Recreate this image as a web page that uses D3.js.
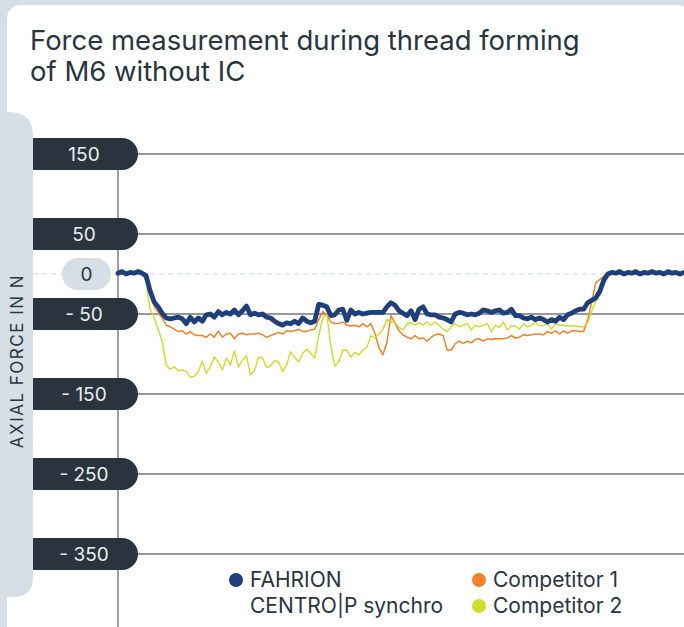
<!DOCTYPE html>
<html>
<head>
<meta charset="utf-8">
<script src="https://cdn.jsdelivr.net/npm/d3@7"></script>
<style>
  html, body { margin: 0; padding: 0; background: #d6dfe5; }
  svg { display: block; }
</style>
</head>
<body>
<svg id="chart" width="684" height="627"></svg>
<script>
// ---------- DATA ----------
const titleLines = ["Force measurement during thread forming", "of M6 without IC"];
const yAxisTitle = "AXIAL FORCE IN N";
const tickValues = [150, 50, 0, -50, -150, -250, -350];
const tickLabels = ["150", "50", "0", "- 50", "- 150", "- 250", "- 350"];
const seriesNames = ["FAHRION\nCENTRO|P synchro", "Competitor 1", "Competitor 2"];
const seriesColors = ["#1e3f7c", "#f5822a", "#cfdc2c"];

// axial force (N) per sample, equally spaced in time
const fahrion = [
  1, 3, 0, 2, 1, 3, 1, -2,
  -21, -35, -41, -49, -55, -56, -55, -54,
  -56, -62, -54, -60, -55, -59, -51, -50,
  -54, -47, -51, -48, -50, -45, -51, -46,
  -40, -51, -49, -51, -50, -54, -55, -59,
  -62, -64, -61, -62, -59, -62, -55, -59,
  -61, -59, -38, -39, -41, -52, -51, -45,
  -44, -58, -45, -50, -48, -50, -49, -48,
  -48, -48, -48, -41, -36, -39, -46, -49,
  -52, -46, -57, -44, -41, -50, -51, -51,
  -54, -55, -57, -60, -50, -48, -49, -51,
  -50, -51, -49, -45, -46, -48, -46, -45,
  -49, -48, -44, -52, -52, -55, -56, -54,
  -57, -55, -57, -60, -57, -59, -54, -57,
  -51, -49, -46, -44, -44, -36, -33, -30,
  -22, -8, 0, 2,
  1, 3, 0, 2, 1, 3, 0, 2, 1, 3, 1, 2, 0, 3, 1, 2, 0, 2
];
const competitor1 = [
  1, 0, 1, 0, 1, 0, 1, -1,
  -23, -40, -48, -55, -64, -66, -69, -72,
  -71, -75, -72, -76, -77, -77, -79, -75,
  -79, -71, -79, -75, -74, -81, -75, -74,
  -76, -75, -75, -74, -76, -79, -77, -75,
  -73, -75, -71, -72, -71, -69, -72, -72,
  -70, -69, -57, -47, -51, -60, -62, -62,
  -60, -64, -65, -64, -66, -62, -66, -62,
  -74, -92, -101, -85, -52, -61, -71, -76,
  -79, -81, -77, -81, -80, -84, -79, -76,
  -75, -77, -95, -95, -87, -84, -87, -84,
  -86, -82, -81, -84, -81, -82, -81, -81,
  -81, -80, -77, -80, -79, -76, -77, -76,
  -75, -75, -76, -72, -74, -71, -75, -71,
  -74, -71, -71, -72, -72, -57, -35, -11,
  -7, -3, 0, 1,
  0, 1, 0, 1, 0, 1, 0, 1, 0, 1, 0, 1, 0, 1, 0, 1, 0, 1
];
const competitor2 = [
  0, 0, 0, 0, 0, 0, 0, -10,
  -44, -54, -69, -84, -114, -119, -116, -121,
  -120, -122, -129, -128, -122, -109, -124, -116,
  -104, -110, -120, -105, -114, -96, -116, -108,
  -102, -126, -121, -104, -105, -117, -115, -108,
  -110, -122, -114, -97, -104, -110, -99, -94,
  -99, -105, -77, -55, -50, -89, -115, -110,
  -95, -95, -104, -98, -101, -95, -92, -77,
  -80, -75, -69, -57, -60, -60, -67, -70,
  -62, -61, -64, -61, -64, -60, -64, -60,
  -64, -69, -72, -66, -62, -66, -64, -62,
  -70, -64, -66, -64, -62, -72, -64, -67,
  -60, -70, -65, -65, -69, -62, -66, -64,
  -60, -65, -64, -62, -69, -62, -64, -64,
  -65, -65, -65, -66, -66, -61, -47, -34,
  -22, -6, 0, 0,
  0, 0, 0, 0, 0, 0, 0, 0, 0, 0, 0, 0, 0, 0, 0, 0, 0, 0
];

// ---------- DRAW ----------
const W = 684, H = 627;
const svg = d3.select("#chart");
const dark = "#29343f";
const bgGray = "#d6dfe5";
const font = "Inter, 'Noto Sans', sans-serif";

// card
svg.append("rect").attr("x", 7).attr("y", 5).attr("width", 684).attr("height", 700)
  .attr("rx", 14).attr("fill", "#ffffff");

// left strip for axis title
const stripTop = 112, stripBottom = 597, stripW = 33, r1 = 24, r2 = 20;
svg.append("path").attr("fill", bgGray).attr("d",
  `M0,${stripTop} L${stripW - r1},${stripTop} Q${stripW},${stripTop} ${stripW},${stripTop + r1}
   L${stripW},${stripBottom - r2} Q${stripW},${stripBottom} ${stripW - r2},${stripBottom}
   L0,${stripBottom} Z`);
svg.append("rect").attr("x", 7).attr("y", stripBottom).attr("width", 60).attr("height", 60)
  .attr("rx", 10).attr("fill", "#ffffff");

// title (two separate lines)
const titleNodes = titleLines.map((t, i) =>
  svg.append("text").attr("font-family", font).attr("font-size", 24)
    .attr("fill", dark).attr("x", 30).attr("y", 50 + i * 31).text(t));
// fit the first line to the reference width (~550px)
const firstLen = titleNodes[0].node().getComputedTextLength();
const titleSize = 24 * 550 / firstLen;
titleNodes.forEach(n => n.attr("font-size", titleSize));

const x = d3.scaleLinear().domain([0, fahrion.length - 1]).range([118, 684]);
const y = d3.scaleLinear().domain([150, -350]).range([154, 554]);

// vertical axis line
svg.append("line").attr("x1", 118).attr("x2", 118).attr("y1", y(150)).attr("y2", H)
  .attr("stroke", "#3a4450").attr("stroke-width", 1);

// gridlines
tickValues.forEach(v => {
  if (v === 0) {
    svg.append("line").attr("x1", 33).attr("x2", W).attr("y1", y(v)).attr("y2", y(v))
      .attr("stroke", "#cdd7dd").attr("stroke-width", 1).attr("stroke-dasharray", "5,4");
  } else {
    svg.append("line").attr("x1", 120).attr("x2", W).attr("y1", y(v)).attr("y2", y(v))
      .attr("stroke", dark).attr("stroke-width", 1.2);
  }
});

// pills
const pillH = 32, pr = 16;
tickValues.forEach((v, i) => {
  const cy = y(v);
  if (v === 0) {
    svg.append("rect").attr("x", 62).attr("y", cy - pillH / 2).attr("width", 49).attr("height", pillH)
      .attr("rx", pr).attr("fill", bgGray);
    svg.append("text").attr("x", 86.5).attr("y", cy).attr("dy", "0.36em")
      .attr("text-anchor", "middle").attr("font-family", font).attr("font-size", 19)
      .attr("fill", dark).text(tickLabels[i]);
  } else {
    const x0 = 33, x1 = 138;
    svg.append("path").attr("fill", dark).attr("d",
      `M${x0},${cy - pillH / 2} L${x1 - pr},${cy - pillH / 2}
       A${pr},${pr} 0 0 1 ${x1 - pr},${cy + pillH / 2} L${x0},${cy + pillH / 2} Z`);
    svg.append("text").attr("x", 84).attr("y", cy).attr("dy", "0.36em")
      .attr("text-anchor", "middle").attr("font-family", font).attr("font-size", 19)
      .attr("fill", "#e9eef1").text(tickLabels[i]);
  }
});

// axis title
svg.append("text").attr("transform", `translate(23,361) rotate(-90)`)
  .attr("text-anchor", "middle").attr("font-family", font).attr("font-size", 17)
  .attr("letter-spacing", 1.5).attr("fill", dark).text(yAxisTitle);

// lines
const line = d3.line().x((d, i) => x(i)).y(d => y(d));
[[competitor1, 1, 1.5], [competitor2, 2, 1.4], [fahrion, 0, 4.8]].forEach(([data, ci, w]) => {
  svg.append("path").datum(data).attr("d", line).attr("fill", "none")
    .attr("stroke", seriesColors[ci]).attr("stroke-width", w)
    .attr("stroke-linejoin", "round").attr("stroke-linecap", "round");
});

// legend
const legendPos = [[236, 580, 250], [479, 580, 493], [479, 606, 493]];
seriesNames.forEach((name, i) => {
  const [cx, cy, tx] = legendPos[i];
  svg.append("circle").attr("cx", cx).attr("cy", cy).attr("r", 7).attr("fill", seriesColors[i]);
  name.split("\n").forEach((ln, j) => {
    svg.append("text").attr("font-family", font).attr("font-size", 21).attr("fill", dark)
      .attr("x", tx).attr("y", cy + 7 + j * 26).text(ln);
  });
});
</script>
</body>
</html>
